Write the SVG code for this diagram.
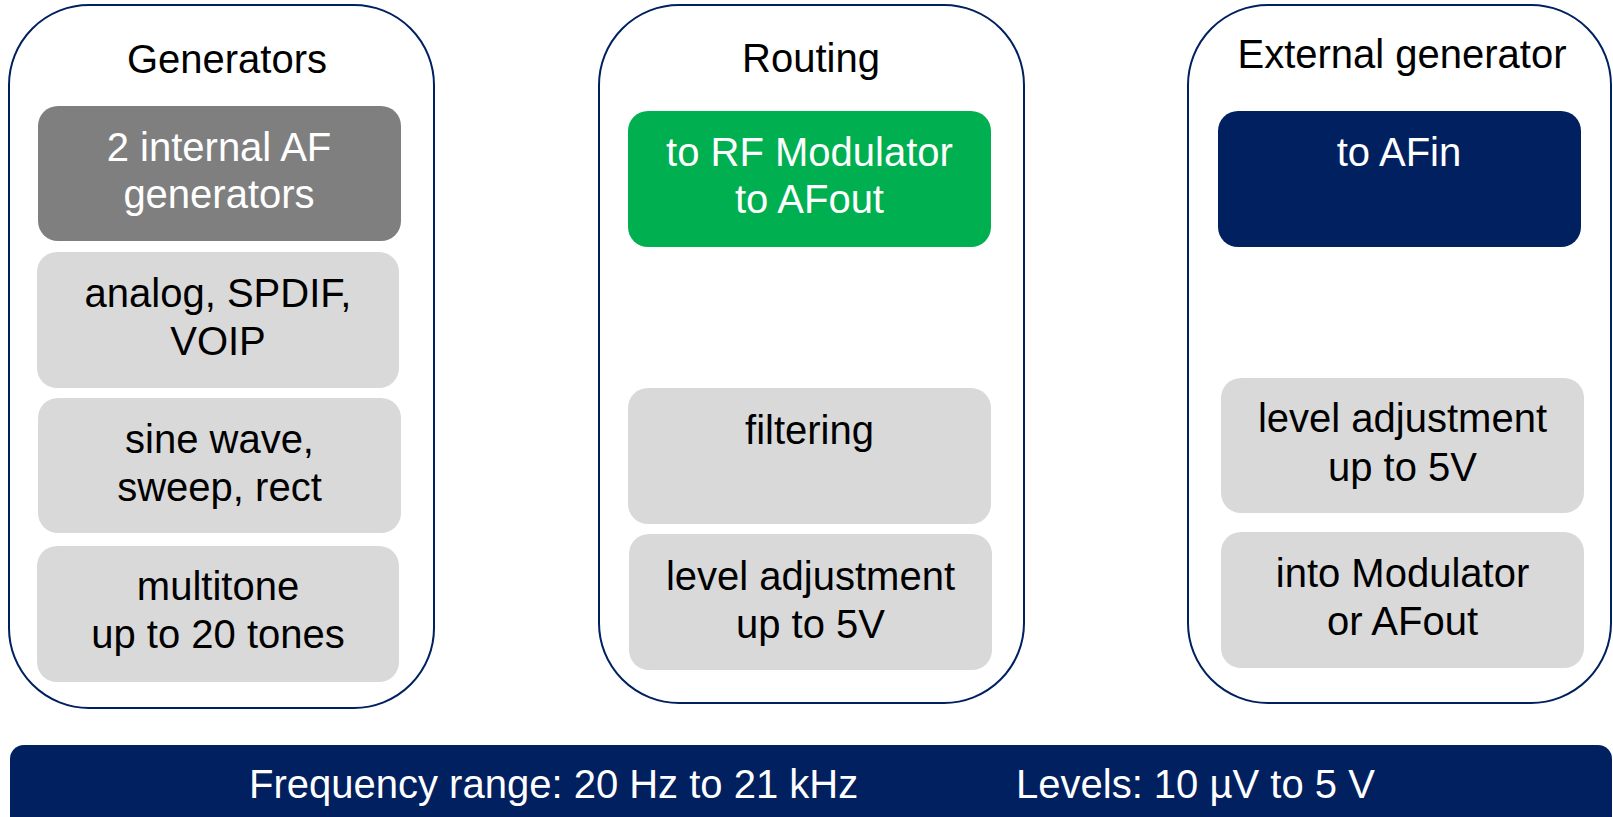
<svg xmlns="http://www.w3.org/2000/svg" width="1613" height="817" viewBox="0 0 1613 817">
<style>
.cont{fill:#ffffff;stroke:#002060;stroke-width:2}
.gray{fill:#D9D9D9}
.t{font-family:"Liberation Sans",Arial,sans-serif;font-size:40px;text-anchor:middle;fill:#000000}
.w{fill:#ffffff}
</style>
<rect width="1613" height="817" fill="#ffffff"/>
<g id="generators">
<rect class="cont" x="9" y="5" width="425" height="703" rx="80" ry="80"/>
<text class="t" x="227" y="73">Generators</text>
</g>
<g id="gen-internal">
<rect x="38" y="106" width="363" height="135" rx="20" fill="#7F7F7F"/>
<text class="t w" x="219" y="161">2 internal AF</text>
<text class="t w" x="219" y="208">generators</text>
</g>
<g id="gen-analog">
<rect class="gray" x="37" y="252" width="362" height="136" rx="20"/>
<text class="t" x="218" y="307">analog, SPDIF,</text>
<text class="t" x="218" y="355">VOIP</text>
</g>
<g id="gen-sine">
<rect class="gray" x="38" y="398" width="363" height="135" rx="20"/>
<text class="t" x="219.5" y="453">sine wave,</text>
<text class="t" x="219.5" y="501">sweep, rect</text>
</g>
<g id="gen-multitone">
<rect class="gray" x="37" y="546" width="362" height="136" rx="20"/>
<text class="t" x="218" y="600">multitone</text>
<text class="t" x="218" y="648">up to 20 tones</text>
</g>
<g id="routing">
<rect class="cont" x="599" y="5" width="425" height="698" rx="80" ry="80"/>
<text class="t" x="811" y="72">Routing</text>
</g>
<g id="route-rf">
<rect x="628" y="111" width="363" height="136" rx="20" fill="#00B050"/>
<text class="t w" x="809.5" y="166">to RF Modulator</text>
<text class="t w" x="809.5" y="213">to AFout</text>
</g>
<g id="route-filter">
<rect class="gray" x="628" y="388" width="363" height="136" rx="20"/>
<text class="t" x="809.5" y="444">filtering</text>
</g>
<g id="route-level">
<rect class="gray" x="629" y="534" width="363" height="136" rx="20"/>
<text class="t" x="810.5" y="590">level adjustment</text>
<text class="t" x="810.5" y="638">up to 5V</text>
</g>
<g id="external">
<rect class="cont" x="1188" y="5" width="423" height="698" rx="80" ry="80"/>
<text class="t" x="1402" y="68">External generator</text>
</g>
<g id="ext-afin">
<rect x="1218" y="111" width="363" height="136" rx="20" fill="#002060"/>
<text class="t w" x="1399" y="166">to AFin</text>
</g>
<g id="ext-level">
<rect class="gray" x="1221" y="378" width="363" height="135" rx="20"/>
<text class="t" x="1402.5" y="432">level adjustment</text>
<text class="t" x="1402.5" y="481">up to 5V</text>
</g>
<g id="ext-modulator">
<rect class="gray" x="1221" y="532" width="363" height="136" rx="20"/>
<text class="t" x="1402.5" y="587">into Modulator</text>
<text class="t" x="1402.5" y="635">or AFout</text>
</g>
<g id="connectors"></g>
<g id="footer">
<rect x="10" y="745" width="1602" height="100" rx="14" fill="#002060"/>
<text class="t w" x="249" y="798" style="text-anchor:start">Frequency range: 20 Hz to 21 kHz</text>
<text class="t w" x="1016" y="798" style="text-anchor:start">Levels: 10 µV to 5 V</text>
</g>
</svg>
